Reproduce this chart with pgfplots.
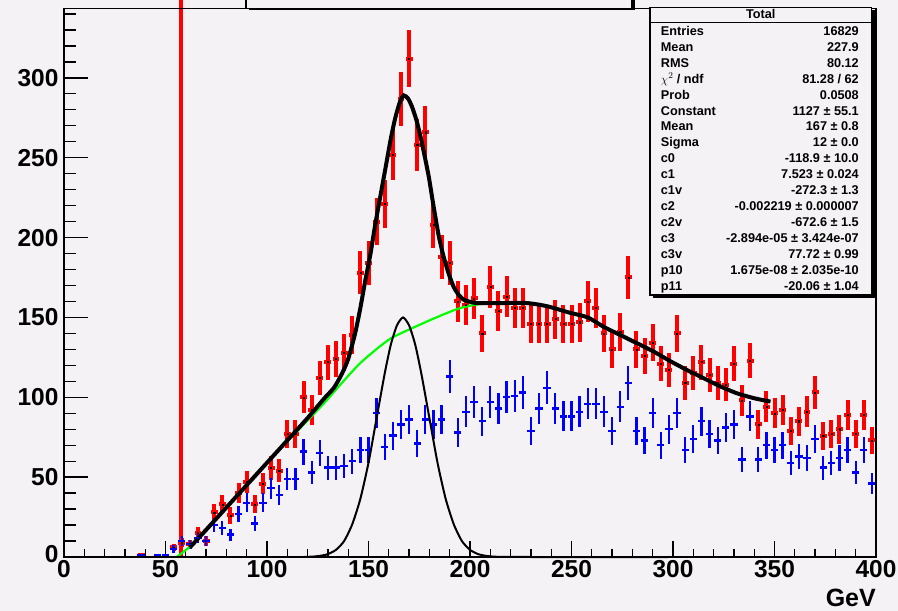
\documentclass[border=0pt]{standalone}
\usepackage{pgfplots}
\usepackage{pgfplotstable}
\pgfplotsset{compat=1.18}
\usepackage{fontspec}
\setmainfont{Liberation Sans}

\definecolor{rootbg}{RGB}{245,242,245}
\definecolor{rootred}{RGB}{255,0,0}
\definecolor{rootblue}{RGB}{0,0,255}
\definecolor{rootgreen}{RGB}{0,255,0}

\newcommand{\statfont}{\fontsize{12.7}{13}\selectfont\bfseries}
\newcommand{\statrow}[3]{%
  \node[anchor=base west,font=\statfont,inner sep=0] at (660.7,{606.4-30.7-15.95*#1}) {#2};
  \node[anchor=base east,font=\statfont,inner sep=0] at (859,{606.4-30.7-15.95*#1}) {#3};}

% red histogram: bin centre, entries
\pgfplotstableread{
x y
38 1
54 6
58 9
62 8
66 15
70 10
74 28
78 33
82 26
86 40
90 47
94 33
98 46
102 56
106 54
110 77
114 77
118 100
122 92
126 112
130 122
134 124
138 128
142 139
146 178
150 184
154 210
158 221
162 252
166 287
170 312
174 258
178 266
182 208
186 188
190 184
194 160
198 158
202 162
206 140
210 169
214 154
218 163
222 156
226 156
230 146
234 146
238 146
242 149
246 146
250 146
254 147
258 160
262 156
266 140
270 130
274 141
278 175
282 130
286 126
290 134
294 121
298 117
302 140
306 109
310 115
314 122
318 114
322 109
326 108
330 121
334 98
338 123
342 83
346 94
350 90
354 92
358 79
362 85
366 91
370 103
374 76
378 77
382 80
386 89
390 77
394 89
398 73
}\redhist

% blue histogram
\pgfplotstableread{
x y
38 1
46 1
50 1
54 5
58 10
62 8
66 12
70 10
74 20
78 18
82 14
86 27
90 34
94 21
98 34
102 43
106 39
110 49
114 49
118 66
122 53
126 65
130 56
134 56
138 57
142 60
146 67
150 67
154 90
158 69
162 76
166 83
170 86
174 71
178 86
182 83
186 86
190 113
194 78
198 91
202 97
206 85
210 97
214 93
218 100
222 101
226 103
230 79
234 93
238 106
242 93
246 88
250 88
254 91
258 96
262 96
266 91
270 79
274 94
278 109
282 79
286 73
290 90
294 70
298 80
302 90
306 67
310 74
314 85
318 77
322 73
326 81
330 83
334 61
338 88
342 61
346 70
350 67
354 70
358 59
362 63
366 62
370 74
374 56
378 59
382 62
386 67
390 53
394 67
398 46
}\bluehist

\pgfplotsset{rootframe/.style={
  at={(64pt,54pt)}, anchor=south west, scale only axis,
  width=812pt, height=548.3pt,
  xmin=0, xmax=400, ymin=0, ymax=343.3,
  axis line style={line width=1.5pt},
  tick align=inside, tick pos=left,
  tick style={line width=1.3pt, black},
  ticklabel style={font=\fontsize{24.5}{24.5}\selectfont\bfseries},
  /pgf/number format/assume math mode=true,
}}

\begin{document}
\begin{tikzpicture}[x=1pt,y=1pt]
\fill[rootbg] (0,0) rectangle (898,611);
\useasboundingbox (0,0) rectangle (898,611);

\begin{axis}[rootframe,
  clip=false,
  xtick={0,50,...,400}, minor xtick={0,10,...,400},
  major tick length=16.4pt, minor tick length=8.2pt,
  ytick=\empty,
]
% cut line
\addplot[rootred, line width=4pt] coordinates {(57.7,0) (57.7,362)};

\addplot[only marks, mark=square*, mark size=0.55pt, black,
  error bars/y dir=both, error bars/y explicit,
  error bars/x dir=both, error bars/x fixed=1.7,
  error bars/error mark=none,
  error bars/error bar style={rootred, line width=4pt}]
  table[x=x, y=y, y error expr=sqrt(\thisrow{y})] {\redhist};

\addplot[only marks, mark=square*, mark size=0.4pt, rootblue,
  error bars/y dir=both, error bars/y explicit,
  error bars/x dir=both, error bars/x fixed=1.8,
  error bars/error mark=none,
  error bars/error bar style={rootblue, line width=2.3pt}]
  table[x=x, y=y, y error expr=sqrt(\thisrow{y})] {\bluehist};

% background component
\addplot[rootgreen, line width=2.2pt, smooth, tension=0.4] coordinates {
  (55.5,0) (62,6.5) (70,17) (80,31) (90,45) (100,59) (110,72.5) (120,85.5)
  (128.6,97) (136.9,109) (145.2,120.5) (153.3,129.5) (161.1,137) (169.3,142)
  (178,147) (185.8,151.3) (194.5,155.6) (202.7,158) (210,159) (215,159)
  (228,159) (238,157) (249,153) (258,150) (266,144) (274,139) (282,134)
  (290.5,128.6) (298.7,122.6) (307,117) (315,112) (323,107) (331.5,102.5)
  (340,99.4) (348,97.3)};

% total fit
\addplot[black, line width=4pt, smooth, tension=0.4] coordinates {
  (62,6) (70,17) (80,31) (90,45) (100,59) (110,73) (120,87) (128,99)
  (133,106) (137,115) (140,124) (143.4,140) (146,156) (148.4,173) (151,190)
  (153.3,208) (156,227) (158.3,243) (161,262) (163.2,275) (165.5,285)
  (167.4,289) (169.5,287) (171.4,282) (173.5,274) (175.5,264) (177.5,252)
  (179.7,238) (182,220) (184.6,201) (187,188) (189.6,177) (192,169)
  (194.5,164) (197,161) (199.4,160) (203,159) (210,159) (215,159) (228,159)
  (238,157) (249,153) (258,150) (266,144) (274,139) (282,134) (290.5,128.6)
  (298.7,122.6) (307,117) (315,112) (323,107) (331.5,102.5) (340,99.4)
  (348,97.3)};

% gaussian component
\addplot[black, line width=2pt, smooth, tension=0.4] coordinates {
  (118,0.1) (122,0.2) (126,0.7) (130,1.8) (134,4.5) (138,10) (142,20.5)
  (146,36.5) (150,59) (154,87) (158,115) (161,133) (164,145) (167,150)
  (170,145) (173,133) (176,115) (180,87) (184,59) (188,36.5) (192,20.5)
  (196,10) (200,4.5) (204,1.8) (208,0.7) (212,0.2) (216,0.1) (230,0) (298,0)};
\end{axis}

\begin{axis}[rootframe,
  xtick=\empty,
  ytick={0,50,...,300}, minor ytick={0,10,...,340},
  yticklabels={\raisebox{7pt}{0},50,100,150,200,250,300},
  yticklabel style={xshift=-2pt},
  major tick length=24pt, minor tick length=12pt,
]
\end{axis}

\node[anchor=east,font=\fontsize{25}{25}\selectfont\bfseries,inner sep=0] at (876,13) {GeV};

% title box (cut by the top edge)
\fill[black] (249,645) rectangle (635,600.7);
\filldraw[fill=rootbg,draw=black,line width=1.5pt] (246,645) rectangle (632,602.7);

% statistics box
\fill[black] (653,600.7) rectangle (874.7,313);
\filldraw[fill=rootbg,draw=black,line width=1.2pt] (650,603.7) rectangle (871.7,316);
\draw[line width=1.2pt] (650,588.3) -- (871.7,588.3);
\node[font=\statfont,inner sep=0] at (760.8,596.7) {Total};
\statrow{0}{Entries}{16829}
\statrow{1}{Mean}{227.9}
\statrow{2}{RMS}{80.12}
\statrow{3}{$\chi^{2}$ / ndf}{81.28 / 62}
\statrow{4}{Prob}{0.0508}
\statrow{5}{Constant}{1127 ± 55.1}
\statrow{6}{Mean}{167 ± 0.8}
\statrow{7}{Sigma}{12 ± 0.0}
\statrow{8}{c0}{-118.9 ± 10.0}
\statrow{9}{c1}{7.523 ± 0.024}
\statrow{10}{c1v}{-272.3 ± 1.3}
\statrow{11}{c2}{-0.002219 ± 0.000007}
\statrow{12}{c2v}{-672.6 ± 1.5}
\statrow{13}{c3}{-2.894e-05 ± 3.424e-07}
\statrow{14}{c3v}{77.72 ± 0.99}
\statrow{15}{p10}{1.675e-08 ± 2.035e-10}
\statrow{16}{p11}{-20.06 ± 1.04}
\end{tikzpicture}
\end{document}
